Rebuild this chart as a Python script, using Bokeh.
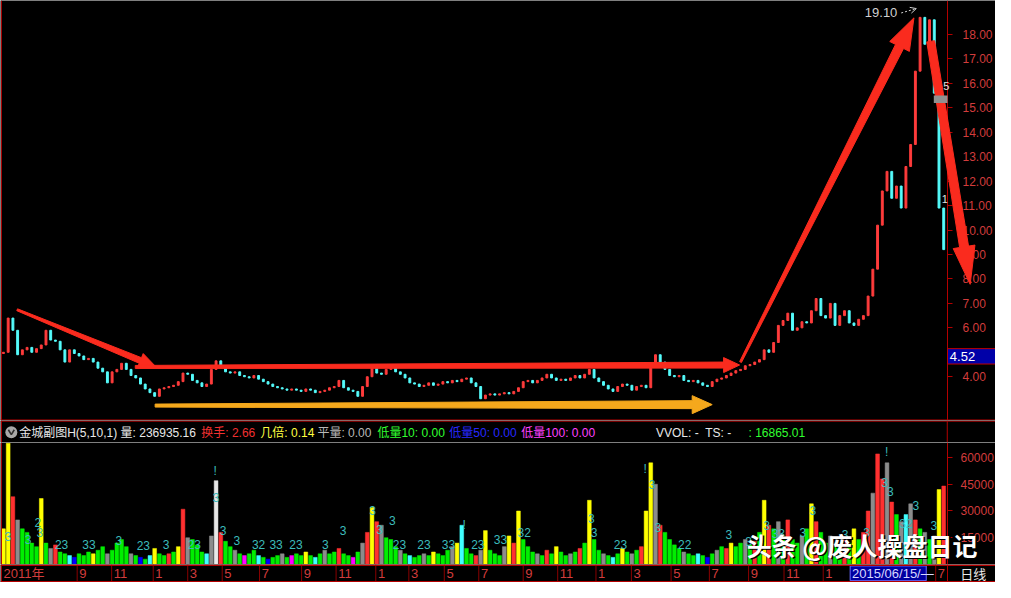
import math
from bokeh.plotting import figure
from bokeh.layouts import column
from bokeh.models import (Range1d, LinearAxis, FixedTicker, Span, PolyAnnotation,
                          Label, BoxAnnotation, Arrow, OpenHead)
from bokeh.core.properties import value
from bokeh.embed import file_html
from bokeh.resources import INLINE

# ---------------- data ----------------
closes = [
    5.0, 6.4, 5.9, 4.9, 5.1, 5.2, 5.0, 5.15, 5.3, 5.9,
    5.5, 5.45, 5.1, 4.6, 5.1, 4.95, 4.85, 4.7, 4.75, 4.6,
    4.35, 4.2, 3.75, 4.2, 4.3, 4.55, 4.3, 4.05, 3.95, 3.7,
    3.5, 3.35, 3.2, 3.5, 3.55, 3.6, 3.65, 3.8, 4.15, 4.1,
    3.85, 3.75, 3.6, 3.7, 4.3, 4.65, 4.45, 4.2, 4.15, 4.2,
    4.05, 4.0, 3.95, 4.05, 3.9, 3.8, 3.7, 3.6, 3.55, 3.5,
    3.45, 3.5, 3.45, 3.4, 3.5, 3.45, 3.35, 3.4, 3.45, 3.55,
    3.6, 3.85, 3.55, 3.45, 3.4, 3.2, 3.6, 4.0, 4.35, 4.15,
    4.1, 4.3, 4.4, 4.2, 4.1, 3.95, 3.75, 3.7, 3.6, 3.65,
    3.75, 3.65, 3.7, 3.8, 3.75, 3.85, 3.8, 3.9, 3.95, 3.75,
    3.6, 3.1, 3.25, 3.3, 3.25, 3.3, 3.35, 3.3, 3.4, 3.55,
    3.8, 3.85, 3.75, 3.85, 3.95, 4.1, 3.95, 3.85, 3.9, 3.85,
    3.95, 4.05, 3.95, 4.1, 4.3, 3.95, 3.8, 3.65, 3.5, 3.4,
    3.6, 3.7, 3.65, 3.45, 3.6, 3.65, 3.55, 4.5, 4.9, 4.6,
    4.3, 4.05, 4.0, 4.05, 3.85, 3.8, 3.85, 3.75, 3.65, 3.6,
    3.8, 3.9, 3.95, 4.05, 4.15, 4.25, 4.3, 4.45, 4.5, 4.6,
    4.7, 5.1, 5.0, 5.4, 6.1, 6.3, 6.6, 5.9, 6.0, 6.25,
    6.2, 6.7, 7.2, 6.5, 6.4, 7.0, 6.1, 6.5, 6.7, 6.2,
    6.1, 6.35, 6.5, 7.3, 8.4, 10.2, 11.6, 12.4, 11.3, 11.8,
    10.9, 12.6, 13.5, 16.5, 18.7, 17.6, 18.6, 15.6, 10.9, 9.2,
]

volumes_k = [
    20, 68, 38, 25, 20, 18, 12, 10, 37, 12,
    9, 11, 7, 6, 5, 4, 6, 5, 7, 6,
    8, 10, 6, 8, 12, 14, 10, 6, 5, 4,
    3, 5, 9, 6, 5, 6, 7, 10, 31, 15,
    14, 11, 7, 6, 16, 47, 18, 13, 10, 8,
    6, 5, 6, 8, 5, 4, 3, 4, 5, 6,
    4, 5, 6, 5, 7, 5, 4, 6, 8, 6,
    7, 9, 6, 5, 4, 7, 12, 18, 32, 24,
    22, 15, 14, 10, 8, 6, 5, 4, 5, 6,
    5, 7, 6, 5, 8, 10, 12, 22, 9, 6,
    5, 8, 19, 8, 6, 5, 10, 16, 12, 30,
    14, 10, 7, 6, 5, 8, 6, 10, 7, 5,
    6, 7, 9, 12, 36, 14, 8, 6, 5, 4,
    6, 9, 7, 6, 8, 10, 30, 57, 45, 22,
    18, 14, 11, 9, 7, 6, 5, 6, 5, 4,
    6, 8, 10, 9, 12, 10, 12, 14, 11, 13,
    18, 36, 22, 20, 24, 16, 25, 14, 12, 16,
    20, 34, 24, 18, 12, 16, 12, 10, 14, 12,
    20, 14, 18, 30, 40, 62, 48, 57, 35, 28,
    24, 28, 34, 25, 20, 18, 14, 16, 42, 44,
]

volume_kind = (
    "YYRSGGGGYG" "SRGGCBGGGY" "GGSGGGGSGB" "GCYGGRGYRS" "GGGCSWRGGS"
    "GMGGCGBGGS" "GMGGYGCGSG" "GRGGMGSRYR" "SGGGSGCGGS" "GYGGGSYCGG"
    "RSYGGGSYRY" "GGGSGRGYGG" "SGRGYGGSGC" "GYGSGRYYSR" "GGGGSGGCGB"
    "GSGRYGGSGR" "GYRGSGRGGS" "GYRGGSGGRG" "YGRRSRRSRG" "SCSRGSGSYR"
)

vol_label_idx = [1.0, 7.3, 7.7, 5.2, 12.3, 18.1, 24.4, 29.6, 34.4, 40.4, 44.8, 45.0,
                 46.5, 49.4, 54.0, 57.7, 61.9, 68.1, 71.9, 78.1, 79.6, 82.3, 83.8,
                 89.0, 94.2, 97.5, 100.4, 105.2, 110.2, 124.4, 125.0, 130.6, 135.8,
                 137.3, 138.5, 144.2, 153.5, 157.7, 161.5, 164.0, 169.2, 171.3,
                 178.1, 182.7, 186.9, 186.5, 187.7, 191.0, 193.1, 196.9]
vol_label_k = [15.5, 23.7, 17.7, 13.9, 11.2, 11.2, 13.4, 10.6, 11.2, 11.2, 52.6, 37.4,
               18.8, 13.4, 11.2, 11.2, 11.2, 11.2, 18.8, 30.3, 19.4, 24.8, 11.2,
               11.2, 11.2, 22.0, 11.2, 13.9, 17.7, 25.9, 17.7, 11.2, 53.7,
               45.0, 20.5, 11.2, 16.6, 12.8, 22.0, 17.2, 17.7, 30.3,
               16.6, 17.7, 63.0, 46.0, 41.0, 23.2, 33.0, 22.0]
vol_label_txt = ["3", "2", "3", "3", "23", "33", "3", "23", "3", "23", "!", "3",
                 "3", "3", "32", "33", "23", "3", "3", "3", "3", "3", "23",
                 "23", "33", "!", "23", "33", "32", "3", "3", "23", "!",
                 "3", "3", "22", "3", "3", "3", "33", "3", "3",
                 "3", "3", "!", "3", "3", "32", "3", "3"]

price_ticks = [4, 6, 7, 8, 9, 10, 11, 12, 13, 14, 15, 16, 17, 18]
volume_ticks = [15000, 30000, 45000, 60000]

month_pos = [15.6, 22.9, 31.7, 39.0, 46.3, 54.2, 63.1, 70.4, 78.8, 85.8, 93.3, 100.6,
             110.0, 117.3, 125.4, 132.9, 141.3, 149.4, 157.7, 165.2, 173.5, 197.3]
month_txt = ["9", "11", "1", "3", "5", "7", "9", "11", "1", "3", "5", "7",
             "9", "11", "1", "3", "5", "7", "9", "11", "1", "7"]

info_x = [19, 122, 204, 264, 322, 383, 456, 529, 666, 716, 760]
info_txt = ["金城副图H(5,10,1)", "量: 236935.16", "换手: 2.66", "几倍: 0.14", "平量: 0.00",
            "低量10: 0.00", "低量50: 0.00", "低量100: 0.00", "VVOL: -", "TS: -", ": 16865.01"]
info_col = ["#e8e8e8", "#e8e8e8", "#f03030", "#ffff40", "#b8b8b8", "#30ff30",
            "#2828ff", "#ff40ff", "#e8e8e8", "#e8e8e8", "#30ff30"]

# arrows: (x0, y0, x1, y1, tail width, shaft width, head length, head width) px
arrows = [
    (2.9, 6.74, 32.3, 4.40, 2, 6, 17, 15, "#fa2b1e"),
    (27.9, 4.40, 155.8, 4.48, 3, 6, 16, 15, "#fa2b1e"),
    (32.1, 2.82, 150.0, 2.86, 3, 8, 20, 18, "#f5a81c"),
    (156.0, 4.60, 192.7, 18.68, 2, 9, 32, 22, "#fa2b1e"),
    (196.25, 17.72, 204.6, 7.78, 8, 9, 38, 22, "#fa2b1e"),
]

# ---------------- layout ----------------
W = 995
AXIS_W = 48
FRAME_W = W - AXIS_W
X0, X1 = -0.625, 199.8
XE = X0 + (X1 - X0) * W / FRAME_W
PY0, PY1 = 2.21, 19.39
H_PRICE, H_INFO, H_VOL, H_DATE = 420, 22, 122, 18
AX_RED = "#b40000"
LBL_RED = "#d23c3c"
FONT = "Liberation Sans"
MIXED = "Liberation Sans, Noto Sans CJK SC"
CJK = "Noto Sans CJK SC"

kx = W / (XE - X0)
ky = H_PRICE / (PY1 - PY0)


def base_fig(h, xr, yr):
    f = figure(width=W, height=h, x_range=xr, y_range=yr, output_backend="svg",
               toolbar_location=None, x_axis_location=None, y_axis_location=None,
               min_border=0, background_fill_color="black", border_fill_color="black")
    f.grid.visible = False
    f.outline_line_color = None
    return f


def red_axis(f, ticks, labels, standoff):
    ax = LinearAxis(ticker=FixedTicker(ticks=ticks), fixed_location=X1,
                    major_label_overrides=labels,
                    axis_line_color=AX_RED, major_tick_line_color=AX_RED,
                    major_tick_in=0, major_tick_out=5, minor_tick_line_color=None,
                    major_label_standoff=standoff, major_label_text_color=LBL_RED,
                    major_label_text_font=FONT, major_label_text_font_size="12px")
    f.add_layout(ax, "right")


# ---- price panel ----
p = base_fig(H_PRICE, Range1d(X0, XE), Range1d(PY0, PY1))
red_axis(p, price_ticks, {t: f"{t:.2f}" for t in price_ticks}, 10)

idx = list(range(len(closes)))
opens = [closes[0] - 0.05] + closes[:-1]
bots, tops, cols = [], [], []
for o, c in zip(opens, closes):
    lo, hi = min(o, c), max(o, c)
    if hi - lo < 0.04:
        lo, hi = lo - 0.02, hi + 0.02
    bots.append(lo)
    tops.append(hi)
    cols.append("#ff3c3c" if c > o else ("#55fcfc" if c < o else "#d0d0d0"))
p.vbar(x=idx, bottom=bots, top=tops, width=0.4, fill_color=cols, line_color=cols)

p.add_layout(Span(location=X0 + 0.2, dimension="height", line_color=AX_RED, line_width=1))
p.add_layout(Span(location=PY0 + 0.02, dimension="width", line_color=AX_RED, line_width=1))

for (ax0, ay0, ax1, ay1, w0, w1, hl, hw, colr) in arrows:
    X0p, Y0p, X1p, Y1p = ax0 * kx, ay0 * ky, ax1 * kx, ay1 * ky
    dx, dy = X1p - X0p, Y1p - Y0p
    L = math.hypot(dx, dy)
    ux, uy = dx / L, dy / L
    nx, ny = -uy, ux
    bx, by = X1p - ux * hl, Y1p - uy * hl
    pts = [(X0p + nx * w0 / 2, Y0p + ny * w0 / 2), (bx + nx * w1 / 2, by + ny * w1 / 2),
           (bx + nx * hw / 2, by + ny * hw / 2), (X1p, Y1p),
           (bx - nx * hw / 2, by - ny * hw / 2), (bx - nx * w1 / 2, by - ny * w1 / 2),
           (X0p - nx * w0 / 2, Y0p - ny * w0 / 2)]
    p.add_layout(PolyAnnotation(xs=[q[0] / kx for q in pts], ys=[q[1] / ky for q in pts],
                                fill_color=colr, fill_alpha=1.0, line_color=colr,
                                line_alpha=1.0, line_width=1))

p.add_layout(Label(x=182.3, y=18.88, text="19.10", text_color="#d0d0d0",
                   text_font=FONT, text_font_size="13px", text_baseline="middle"))
p.add_layout(Arrow(end=OpenHead(size=6, line_color="#d0d0d0", line_width=1),
                   x_start=190.0, y_start=18.88, x_end=193.2, y_end=19.06,
                   line_color="#d0d0d0", line_dash="2 2", line_width=1))

# current price box and small markers on the right
p.add_layout(BoxAnnotation(left=X1, right=XE, bottom=4.52, top=5.15,
                           fill_color="#0000a8", fill_alpha=1.0, line_color="#c00000",
                           line_alpha=1.0, level="overlay"))
p.add_layout(Label(x=X1 + 0.5, y=4.83, text="4.52", text_color="white", text_font=FONT,
                   text_font_size="13px", text_baseline="middle", level="overlay"))
p.add_layout(BoxAnnotation(left=196.9, right=X1, bottom=15.2, top=15.5,
                           fill_color="#909090", fill_alpha=1.0, line_color=None))
p.add_layout(Label(x=198.9, y=15.9, text="5", text_color="#e0e0e0", text_font=FONT,
                   text_font_size="11px", text_baseline="middle"))
p.add_layout(Label(x=198.6, y=11.25, text="1", text_color="#e0e0e0", text_font=FONT,
                   text_font_size="11px", text_baseline="middle"))

# ---- info bar ----
info = base_fig(H_INFO, Range1d(0, 1011), Range1d(0, 1))
info.segment(x0=[0], y0=[0.97], x1=[1011], y1=[0.97], line_color=AX_RED, line_width=1)
info.segment(x0=[1, 962], y0=[0, 0], x1=[1, 962], y1=[1, 1], line_color=AX_RED, line_width=1)
info.scatter(x=[11], y=[0.47], size=12, marker="circle", fill_color="#a8a8a8", line_color=None)
info.line(x=[8, 11, 14], y=[0.58, 0.36, 0.58], line_color="#303030", line_width=1.6)
info.text(x=info_x, y=[0.45] * len(info_x), text=info_txt, text_color=info_col,
          text_font=value(MIXED), text_font_size="12px", text_baseline="middle",
          text_align="left")

# ---- volume panel ----
vol = base_fig(H_VOL, p.x_range, Range1d(0, 68400))
red_axis(vol, volume_ticks, {t: str(t) for t in volume_ticks}, 8)
kind_color = {"Y": "#ffff00", "G": "#00ee00", "R": "#ff3030", "S": "#8c8c8c",
              "C": "#40ffff", "B": "#0000ff", "M": "#ff00ff", "W": "#e8e8e8"}
vol.vbar(x=idx, top=[v * 1000 for v in volumes_k], width=0.8,
         fill_color=[kind_color[k] for k in volume_kind],
         line_color=[kind_color[k] for k in volume_kind], line_width=0.5)
vol.text(x=vol_label_idx, y=[v * 1000 for v in vol_label_k], text=vol_label_txt,
         text_color="#3cbcbc", text_font=value(FONT), text_font_size="12px",
         text_baseline="middle", text_align="center")
vol.add_layout(Span(location=X0 + 0.2, dimension="height", line_color=AX_RED, line_width=1))
vol.add_layout(Label(x=157.3, y=11000, text="头条 @废人操盘日记", text_color="black",
                     text_font=CJK, text_font_size="25px", text_font_style="bold",
                     text_baseline="middle", x_offset=1.5, y_offset=-1.5))
vol.add_layout(Label(x=157.3, y=11000, text="头条 @废人操盘日记", text_color="white",
                     text_font=CJK, text_font_size="25px", text_font_style="bold",
                     text_baseline="middle"))

# ---- date bar ----
date = base_fig(H_DATE, p.x_range, Range1d(0, 1))
date.segment(x0=month_pos, y0=[0] * len(month_pos), x1=month_pos, y1=[1] * len(month_pos),
             line_color="#8a0000", line_width=1)
date.quad(left=[179.2], right=[195.3], bottom=[0.1], top=[0.92], fill_color="#0000a0",
          line_color="#6a6aff")
date.text(x=[179.6], y=[0.48], text=["2015/06/15/—"], text_color="#d8d8ff",
          text_font=value(FONT), text_font_size="13px", text_baseline="middle")
date.text(x=[0.0] + [m + 0.45 for m in month_pos], y=[0.48] * (len(month_pos) + 1),
          text=["2011年"] + month_txt, text_color=LBL_RED, text_font=value(MIXED),
          text_font_size="13px", text_baseline="middle", text_align="left")
date.segment(x0=[X0, X0], y0=[0.96, 0.04], x1=[XE, XE], y1=[0.96, 0.04],
             line_color=AX_RED, line_width=1.5)
date.segment(x0=[X1, X0 + 0.2], y0=[0, 0], x1=[X1, X0 + 0.2], y1=[1, 1],
             line_color=AX_RED, line_width=1)
date.text(x=[202.5], y=[0.48], text=["日线"], text_color="#e8e8e8", text_font=value(CJK),
          text_font_size="13px", text_baseline="middle")

layout = column(p, info, vol, date, spacing=0)
open("out.html", "w").write(file_html(layout, INLINE))
